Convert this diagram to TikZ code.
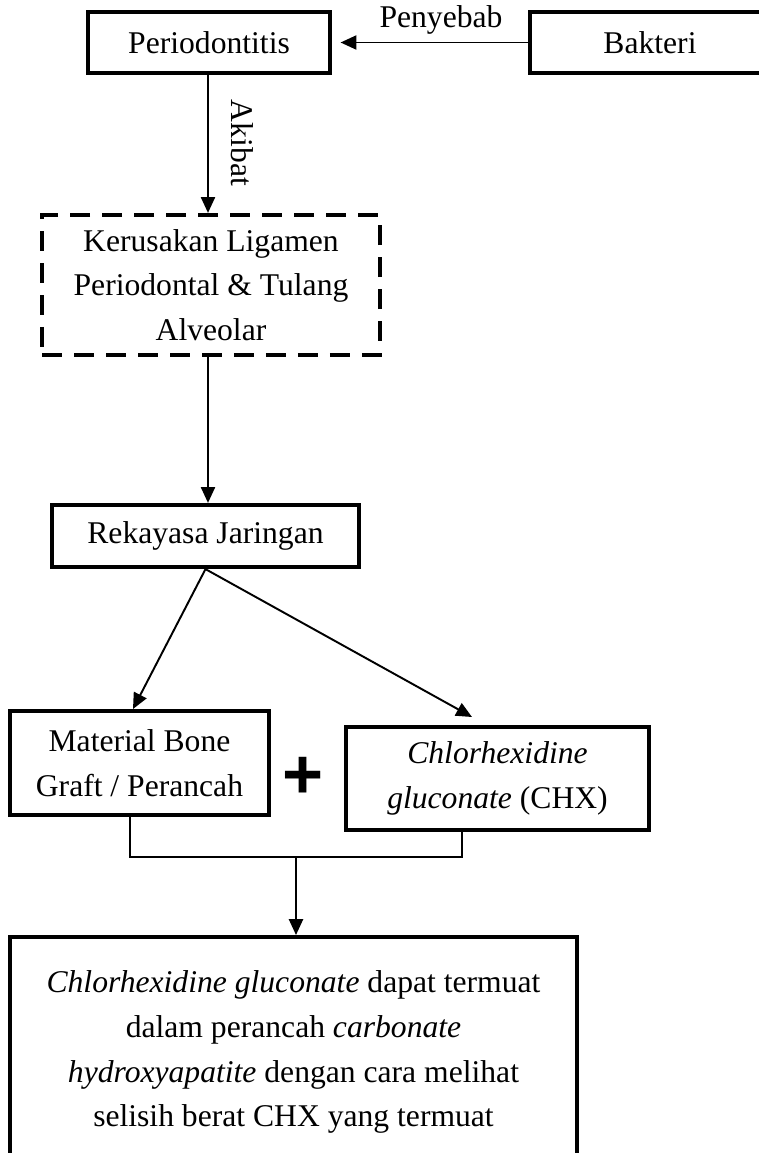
\documentclass[tikz,border=0pt]{standalone}
\usepackage{fontspec}
\setmainfont{Liberation Serif}
\setsansfont{Liberation Sans}
\usetikzlibrary{arrows.meta}
\usetikzlibrary{backgrounds}

\tikzset{
  box/.style={draw, line width=2.4pt, inner sep=0pt, align=center,
    font=\fontsize{18}{25.5}\selectfont},
  dashbox/.style={box, dash pattern=on 0.4cm off 0.24cm},
  link/.style={line width=1.1pt},
  >={Triangle[length=9pt,width=8pt]}
}

\begin{document}
\begin{tikzpicture}[x=0.02cm, y=-0.02cm]
  \useasboundingbox (0,0) rectangle (759,1153);
  \clip (0,0) rectangle (759,1153);

  \begin{scope}[every node/.style={box}]
    \node (peri) [minimum width=4.84cm, minimum height=1.22cm] at (209,42.5) {Periodontitis};
    \node (bakt) [minimum width=4.8cm, minimum height=1.22cm] at (650,42.5) {Bakteri};
    \node (dmg) [dashbox, minimum width=6.76cm, minimum height=2.8cm] at (211,285)
      {Kerusakan Ligamen\\Periodontal \& Tulang\\Alveolar};
    \node (rek) [minimum width=6.14cm, minimum height=1.24cm] at (205.5,536) {Rekayasa Jaringan};
    \node (mat) [minimum width=5.18cm, minimum height=2.08cm] at (139.5,763)
      {Material Bone\\Graft / Perancah};
    \node (chx) [minimum width=6.06cm, minimum height=2.06cm] at (497.5,778.5)
      {\textit{Chlorhexidine}\\\textit{gluconate} (CHX)};
    \node (res) [anchor=north, minimum width=11.34cm, minimum height=4.6cm] at (293.5,935)
      {\textit{Chlorhexidine gluconate} dapat termuat\\
       dalam perancah \textit{carbonate}\\
       \textit{hydroxyapatite} dengan cara melihat\\
       selisih berat CHX yang termuat};
  \end{scope}

  \node (plus) at (303,778) {\fontsize{40}{40}\selectfont\sffamily\bfseries +};
  \node (sebab) at (441,20) {\fontsize{18}{20}\selectfont Penyebab};
  \node (akibat) [rotate=-90] at (242,143) {\fontsize{18}{20}\selectfont Akibat};

  \coordinate (down1) at (208,73);
  \coordinate (down2) at (208,356);
  \coordinate (toMat) at (133,709);
  \coordinate (toChx) at (472,717);
  \coordinate (join) at (296,857);

  \path [->, link] (bakt) edge[shorten >=0.17cm] (peri);
  \path [->, link] (down1) edge (down1 |- dmg.north);
  \path [->, link] (down2) edge (down2 |- rek.north);
  \path [->, link] (rek.south) edge (toMat);
  \path [->, link] (rek.south) edge (toChx);

  \draw [line width=0.8pt] ([xshift=-0.19cm]mat.south) |- (join) -| ([xshift=-0.71cm]chx.south);
  \path [->, link] (join) edge (join |- res.north);
\end{tikzpicture}
\end{document}
